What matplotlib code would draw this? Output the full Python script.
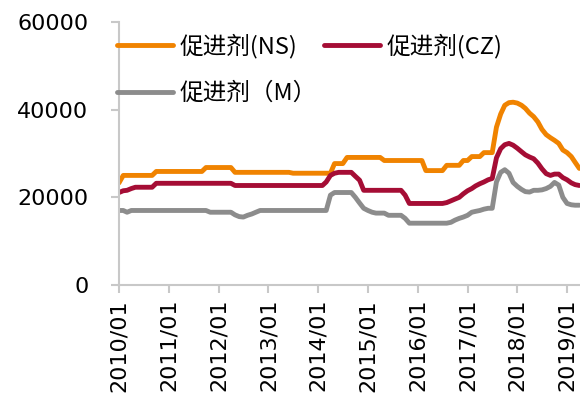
import matplotlib
matplotlib.use('Agg')
import matplotlib.pyplot as plt
import matplotlib.dates as mdates
import pandas as pd

months = pd.date_range('2010-01-01', periods=112, freq='MS')

# 促进剂(NS)
ns = [23300, 25000, 25000, 25000, 25000, 25000, 25000, 25000, 25000, 25900, 25900, 25900,
      25900, 25900, 25900, 25900, 25900, 25900, 25900, 25900, 25900, 26800, 26800, 26800,
      26800, 26800, 26800, 26800, 25700, 25700, 25700, 25700, 25700, 25700, 25700, 25700,
      25700, 25700, 25700, 25700, 25700, 25700, 25500, 25500, 25500, 25500, 25500, 25500,
      25500, 25500, 25500, 25500, 27700, 27700, 27700, 29100, 29100, 29100, 29100, 29100,
      29100, 29100, 29100, 29100, 28400, 28400, 28400, 28400, 28400, 28400, 28400, 28400,
      28400, 28400, 26100, 26100, 26100, 26100, 26100, 27300, 27300, 27300, 27300, 28400,
      28400, 29300, 29300, 29300, 30200, 30200, 30200, 36000, 39000, 41000, 41600, 41700,
      41500, 41000, 40300, 39200, 38400, 37200, 35500, 34300, 33600, 33000, 32300, 30800,
      30200, 29300, 28000, 26600]

# 促进剂(CZ)
cz = [21100, 21500, 21600, 22000, 22300, 22300, 22300, 22300, 22300, 23200, 23200, 23200,
      23200, 23200, 23200, 23200, 23200, 23200, 23200, 23200, 23200, 23200, 23200, 23200,
      23200, 23200, 23200, 23200, 22700, 22700, 22700, 22700, 22700, 22700, 22700, 22700,
      22700, 22700, 22700, 22700, 22700, 22700, 22700, 22700, 22700, 22700, 22700, 22700,
      22700, 22700, 23500, 25000, 25500, 25700, 25700, 25700, 25700, 24800, 23900, 21600,
      21600, 21600, 21600, 21600, 21600, 21600, 21600, 21600, 21600, 20500, 18600, 18600,
      18600, 18600, 18600, 18600, 18600, 18600, 18600, 18800, 19200, 19600, 20000, 20800,
      21500, 22000, 22600, 23100, 23500, 24000, 24300, 29000, 31100, 32000, 32300, 31900,
      31200, 30400, 29700, 29200, 28800, 27800, 26500, 25400, 25000, 25300, 25300, 24500,
      24000, 23300, 22900, 22700]

# 促进剂（M）
m = [17000, 17000, 16600, 17000, 17000, 17000, 17000, 17000, 17000, 17000, 17000, 17000,
     17000, 17000, 17000, 17000, 17000, 17000, 17000, 17000, 17000, 17000, 16600, 16600,
     16600, 16600, 16600, 16600, 16000, 15600, 15500, 15900, 16200, 16600, 17000, 17000,
     17000, 17000, 17000, 17000, 17000, 17000, 17000, 17000, 17000, 17000, 17000, 17000,
     17000, 17000, 17000, 20500, 21100, 21100, 21100, 21100, 21100, 20000, 18700, 17500,
     17000, 16600, 16400, 16400, 16400, 15900, 15900, 15900, 15900, 15200, 14100, 14100,
     14100, 14100, 14100, 14100, 14100, 14100, 14100, 14100, 14300, 14800, 15200, 15500,
     15900, 16600, 16800, 17000, 17300, 17500, 17500, 23500, 25700, 26300, 25500, 23400,
     22500, 21800, 21300, 21200, 21600, 21600, 21700, 22000, 22500, 23400, 22800, 20000,
     18600, 18300, 18200, 18200]

labels = ['促进剂(NS)', '促进剂(CZ)', '促进剂（M）']
colors = ['#F08300', '#A50D35', '#8C8C8C']

plt.rcParams['font.family'] = ['DejaVu Sans', 'Noto Sans CJK SC']

fig = plt.figure(figsize=(5.8, 4.05), dpi=100)
ax = fig.add_axes([0.2052, 0.2963, 0.7948, 0.6494])

lines = []
for y, lab, c in zip([ns, cz, m], labels, colors):
    ln, = ax.plot(months, y, color=c, lw=3.5, label=lab, solid_joinstyle='round',
                  solid_capstyle='round')
    lines.append(ln)

ax.set_ylim(0, 60000)
ax.set_yticks([0, 20000, 40000, 60000])
ax.set_xlim(pd.Timestamp('2010-01-01'), pd.Timestamp('2019-04-06'))
ax.xaxis.set_major_locator(mdates.YearLocator())
ax.xaxis.set_major_formatter(mdates.DateFormatter('%Y/%m'))

for s in ['top', 'right']:
    ax.spines[s].set_visible(False)
for s in ['left', 'bottom']:
    ax.spines[s].set_color('#C8C8C8')
    ax.spines[s].set_linewidth(1.5)

ax.tick_params(axis='both', colors='#C8C8C8', width=1.5, length=6, labelcolor='black',
               labelsize=16)
ax.tick_params(axis='y', pad=16)
ax.tick_params(axis='x', pad=4)
plt.setp(ax.get_xticklabels(), rotation=90)

# legend fills column-first, so order NS, M, CZ gives rows NS|CZ and M
order = [0, 2, 1]
leg = ax.legend([lines[i] for i in order], [labels[i] for i in order],
                loc='upper left', bbox_to_anchor=(-0.005, 0.955), ncol=2, frameon=False,
                prop={'family': ['Noto Sans CJK SC', 'DejaVu Sans'], 'size': 17},
                handlelength=2.4, handletextpad=0.25, columnspacing=0.3,
                labelspacing=1.0, borderaxespad=0, borderpad=0)

plt.savefig('out.png', dpi=100)
